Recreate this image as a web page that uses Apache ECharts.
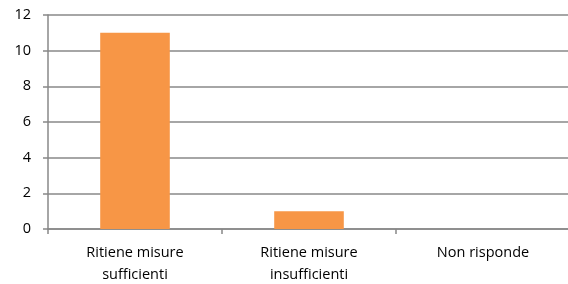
<!DOCTYPE html>
<html><head><meta charset="utf-8">
<script src="https://cdn.jsdelivr.net/npm/echarts@6/dist/echarts.min.js"></script>
<style>html,body{margin:0;padding:0;background:#fff}#c{width:568px;height:284px}</style>
</head><body><div id="c"></div>
<script>
var categories = ["Ritiene misure\nsufficienti", "Ritiene misure\ninsufficienti", "Non risponde"];
var values = [11, 1, 0];
var yMin = 0, yMax = 12, yInterval = 2;

var chart = echarts.init(document.getElementById('c'), null, {renderer: 'canvas'});
chart.setOption({
  animation: false,
  grid: {left: 48, right: -2, top: 15, bottom: 55, containLabel: false, outerBoundsMode: 'none'},
  xAxis: {
    type: 'category', data: categories,
    axisLine: {lineStyle: {color: '#888', width: 1.5}},
    axisTick: {show: true, length: 5, lineStyle: {color: '#888', width: 1.5}},
    axisLabel: {color: '#000', fontFamily: 'Open Sans', fontSize: 14.5, lineHeight: 22, margin: 13, interval: 0}
  },
  yAxis: {
    type: 'value', min: yMin, max: yMax, interval: yInterval,
    axisLine: {show: true, lineStyle: {color: '#888', width: 1.5}},
    axisTick: {show: true, length: 5, lineStyle: {color: '#888', width: 1.5}},
    splitLine: {lineStyle: {color: '#888', width: 1.5}},
    axisLabel: {color: '#000', fontFamily: 'Open Sans', fontSize: 14.5, margin: 17}
  },
  series: [{
    type: 'bar', data: values, barWidth: '40%',
    itemStyle: {color: '#F79646'}
  }]
});
</script></body></html>
